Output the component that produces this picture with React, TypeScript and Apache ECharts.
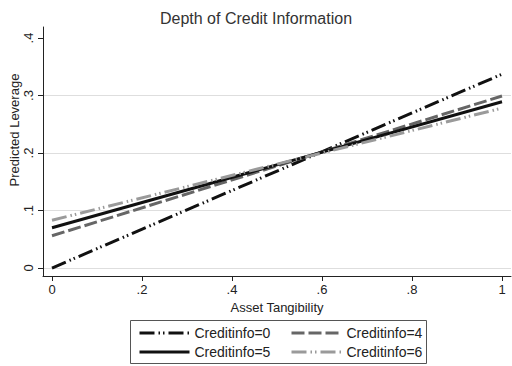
import React, { useEffect, useRef } from "react";
import * as echarts from "echarts";

const title = "Depth of Credit Information";
const seriesNames = ["Creditinfo=0", "Creditinfo=4", "Creditinfo=5", "Creditinfo=6"];
const xPoints = [0, 1];
const creditinfo0 = [0.0, 0.337];
const creditinfo4 = [0.056, 0.299];
const creditinfo5 = [0.07, 0.289];
const creditinfo6 = [0.083, 0.278];
const seriesValues = [creditinfo0, creditinfo4, creditinfo5, creditinfo6];

const colors = ["#111111", "#666666", "#111111", "#9a9a9a"];
const dashes: any[] = [[15, 4, 1.5, 3, 1.5, 4], [13, 4], "solid", [15, 4, 1.5, 3, 1.5, 4]];
const legendLefts = [138, 290, 138, 290];
const legendTops = [326, 326, 345, 345];

const fmt = (v: number) => {
  if (v === 0) return "0";
  if (v === 1) return "1";
  return String(+v.toFixed(1)).replace(/^0/, "");
};

export default function App() {
  const ref = useRef<HTMLDivElement>(null);
  useEffect(() => {
    if (!ref.current) return;
    const chart = echarts.init(ref.current, undefined, { renderer: "svg" });
    const font = "Liberation Sans, Arial, sans-serif";
    chart.setOption({
      animation: false,
      backgroundColor: "#ffffff",
      textStyle: { fontFamily: font },
      title: {
        text: title,
        left: "center",
        top: 5,
        textStyle: { fontSize: 16, fontWeight: "normal", color: "#333", fontFamily: font },
      },
      grid: [
        { left: 43, right: 1, top: 27, bottom: 90, containLabel: false, outerBoundsMode: "none" },
        { left: 43, right: 1, top: 38, bottom: 98, containLabel: false, outerBoundsMode: "none" },
        { left: 52, right: 10, top: 27, bottom: 90, containLabel: false, outerBoundsMode: "none" },
      ],
      xAxis: [
        {
          gridIndex: 0, type: "value", min: -0.02, max: 1.02,
          axisLine: { show: true, onZero: false, lineStyle: { color: "#222", width: 1 } },
          axisTick: { show: false }, axisLabel: { show: false }, splitLine: { show: false },
        },
        {
          gridIndex: 1, type: "value", min: 0, max: 1, show: false,
        },
        {
          gridIndex: 2, type: "value", min: 0, max: 1, interval: 0.2,
          axisLine: { show: false, onZero: false },
          axisTick: { show: true, length: 5, lineStyle: { color: "#222" } },
          axisLabel: { margin: 7, fontSize: 13, color: "#222", formatter: fmt, fontFamily: font },
          splitLine: { show: false },
          name: "Asset Tangibility", nameLocation: "middle", nameGap: 19,
          nameTextStyle: { fontSize: 13, color: "#222", fontFamily: font },
        },
      ],
      yAxis: [
        {
          gridIndex: 0, type: "value", min: -0.0139, max: 0.419,
          axisLine: { show: true, onZero: false, lineStyle: { color: "#222", width: 1 } },
          axisTick: { show: false }, axisLabel: { show: false }, splitLine: { show: false },
        },
        {
          gridIndex: 1, type: "value", min: 0, max: 0.4, interval: 0.1,
          axisLine: { show: false, onZero: false },
          axisTick: { show: true, length: 5, lineStyle: { color: "#222" } },
          axisLabel: { margin: 8, rotate: 90, fontSize: 13, color: "#222", formatter: fmt, fontFamily: font },
          splitLine: {
            show: true,
            lineStyle: { color: ["#dedede", "#dedede", "#dedede", "#dedede", "rgba(0,0,0,0)"], width: 1 },
          },
          name: "Predicted Leverage", nameLocation: "middle", nameGap: 22,
          nameMoveOverlap: false,
          nameTextStyle: { fontSize: 13, color: "#222", fontFamily: font, padding: [0, 0, 0, 46] },
        },
        {
          gridIndex: 2, type: "value", min: 0, max: 1, show: false,
        },
      ],
      legend: seriesNames.map((name, i) => ({
        data: [name],
        left: legendLefts[i],
        top: legendTops[i],
        orient: "horizontal",
        padding: 0,
        itemWidth: 50,
        itemHeight: 14,
        selectedMode: false,
        textStyle: { fontSize: 14, color: "#222", fontFamily: font },
        lineStyle: { width: 3 },
        itemStyle: { opacity: 0 },
      })),
      graphic: [
        {
          type: "rect",
          shape: { x: 130.5, y: 320.5, width: 296, height: 43 },
          style: { fill: "none", stroke: "#555", lineWidth: 1 },
          silent: true,
        },
      ],
      series: seriesNames.map((name, i) => ({
        name,
        type: "line",
        xAxisIndex: 0,
        yAxisIndex: 0,
        symbol: "none",
        showSymbol: false,
        data: xPoints.map((x, j) => [x, seriesValues[i][j]]),
        lineStyle: { color: colors[i], width: 3, type: dashes[i] },
        itemStyle: { color: colors[i] },
        z: 3,
      })),
    });
    return () => chart.dispose();
  }, []);
  return (
    <div
      ref={ref}
      style={{ position: "fixed", left: 0, top: 0, width: 512, height: 366 }}
    />
  );
}
